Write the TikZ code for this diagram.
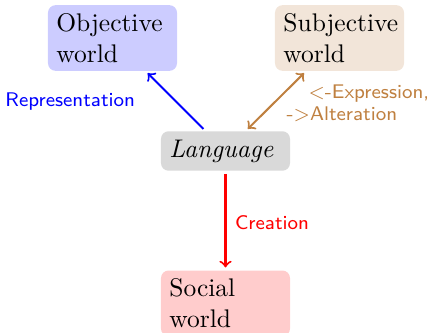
\documentclass[tikz,border=0pt]{standalone}
\begin{document}
\begin{tikzpicture}[x=0.39216pt,y=-0.39216pt,
  box/.style={rounded corners=3pt, text width=44pt, inner xsep=3.3pt, inner ysep=3.3pt, align=left, font=\normalsize},
  lbl/.style={font=\sffamily\fontsize{7.75}{8.7}\selectfont},
  conn/.style={->, thick, shorten >=1pt, shorten <=1pt}]
\useasboundingbox (0,0) rectangle (427,333);
\node[box, fill=blue!20] (obj) at (112.5,38) {Objective world};
\node[box, fill=brown!20] (subj) at (339.5,38) {Subjective world};
\node[box, fill=gray!30, minimum height=14.9pt] (lang) at (225.5,151) {\textit{Language}};
\node[box, fill=red!20, anchor=north] (soc) at (225.5,270) {Social world};
\draw[conn, blue] (lang) -- node[lbl, midway, anchor=east, xshift=-12.2pt, yshift=-0.2pt] {Representation} (obj);
\draw[conn, <->, brown] (lang) -- node[lbl, midway, anchor=west, align=left, xshift=0.5pt, yshift=-0.8pt] {\hspace*{8.6pt}<-Expression,\\->Alteration} (subj);
\draw[conn, red] (lang) -- node[lbl, midway, right, yshift=-0.9pt] {Creation} (soc);
\end{tikzpicture}
\end{document}
